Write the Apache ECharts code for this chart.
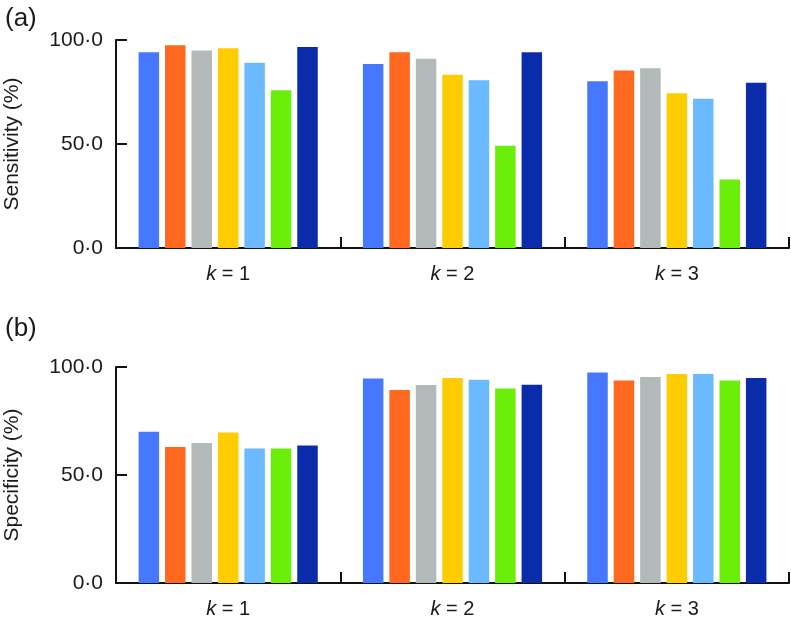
<!DOCTYPE html>
<html>
<head>
<meta charset="utf-8">
<script src="https://cdn.jsdelivr.net/npm/echarts@6/dist/echarts.min.js"></script>
<style>
html,body{margin:0;padding:0;background:#fff;}
#main{width:791px;height:621px;}
</style>
</head>
<body>
<div id="main"></div>
<script>
const kValues = ['1', '2', '3'];
const yTicks = [0, 50, 100];
const methodColors = ['#4678FF', '#FF681E', '#B1BAB8', '#FFCC00', '#6BBAFF', '#6AEE0A', '#0A2BAA'];

// Sensitivity (%) per k, one value per method (7 bars)
const sensitivityK1 = [94.1, 97.5, 94.9, 96.0, 89.1, 75.8, 96.6];
const sensitivityK2 = [88.5, 94.1, 91.0, 83.3, 80.6, 49.1, 94.1];
const sensitivityK3 = [80.2, 85.3, 86.4, 74.4, 71.8, 32.9, 79.5];

// Specificity (%) per k
const specificityK1 = [70.0, 63.0, 64.8, 69.7, 62.3, 62.3, 63.6];
const specificityK2 = [94.7, 89.4, 91.7, 94.9, 94.1, 90.0, 91.8];
const specificityK3 = [97.4, 93.7, 95.4, 96.8, 96.8, 93.7, 94.9];

const FONT = 'Liberation Sans';
const TXT = '#1a1a1a';

function fmtY(v) { return v.toFixed(1).replace('.', '\u00B7'); }

function xAxisCfg(gridIndex) {
  return {
    type: 'category', gridIndex: gridIndex, data: kValues,
    axisLine: { lineStyle: { color: '#111', width: 2 } },
    axisTick: { show: true, inside: true, length: 11, lineStyle: { color: '#111', width: 2 } },
    axisLabel: {
      margin: 16,
      formatter: v => '{i|k}{n| = ' + v + '}',
      rich: {
        i: { fontFamily: FONT, fontStyle: 'italic', fontSize: 20, color: TXT },
        n: { fontFamily: FONT, fontSize: 20, color: TXT }
      }
    },
    splitLine: { show: false }
  };
}

function yAxisCfg(gridIndex, name) {
  return {
    type: 'value', gridIndex: gridIndex, min: yTicks[0], max: yTicks[yTicks.length - 1], interval: 50,
    name: name, nameLocation: 'middle', nameGap: 93,
    nameTextStyle: { fontFamily: FONT, fontSize: 21, color: TXT },
    axisLine: { show: true, lineStyle: { color: '#111', width: 2 } },
    axisTick: { show: true, inside: true, length: 11, lineStyle: { color: '#111', width: 2 } },
    axisLabel: { margin: 13, formatter: fmtY, fontFamily: FONT, fontSize: 21, color: TXT },
    splitLine: { show: false }
  };
}

const series = [];
const panels = [
  [sensitivityK1, sensitivityK2, sensitivityK3],
  [specificityK1, specificityK2, specificityK3]
];
panels.forEach((p, gi) => {
  for (let m = 0; m < methodColors.length; m++) {
    series.push({
      type: 'bar', xAxisIndex: gi, yAxisIndex: gi,
      data: [p[0][m], p[1][m], p[2][m]],
      barWidth: 20.5, barGap: '29%',
      itemStyle: { color: methodColors[m] },
      silent: true
    });
  }
});

const chart = echarts.init(document.getElementById('main'), null, { renderer: 'canvas' });
chart.setOption({
  animation: false,
  backgroundColor: '#fff',
  title: [
    { text: '(a)', left: 0, top: 1, textStyle: { fontFamily: FONT, fontSize: 26, fontWeight: 'normal', color: TXT } },
    { text: '(b)', left: 0, top: 311, textStyle: { fontFamily: FONT, fontSize: 26, fontWeight: 'normal', color: TXT } }
  ],
  grid: [
    { left: 116, top: 40, width: 673, height: 208, containLabel: false, outerBoundsMode: 'none' },
    { left: 116, top: 367, width: 673, height: 216, containLabel: false, outerBoundsMode: 'none' }
  ],
  xAxis: [xAxisCfg(0), xAxisCfg(1)],
  yAxis: [yAxisCfg(0, 'Sensitivity (%)'), yAxisCfg(1, 'Specificity (%)')],
  series: series
});
</script>
</body>
</html>
